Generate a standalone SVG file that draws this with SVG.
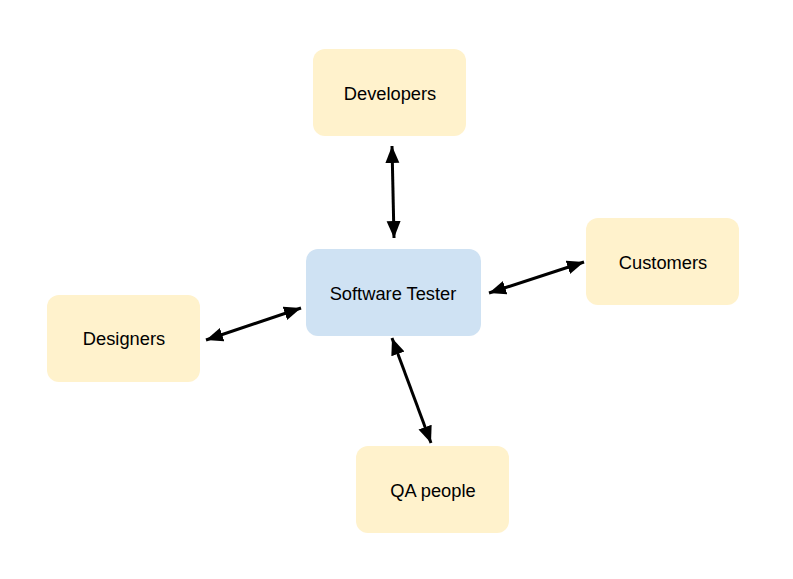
<svg xmlns="http://www.w3.org/2000/svg" width="793" height="579" viewBox="0 0 793 579">
<style>
.box{stroke:none}
.y{fill:#fff2cc}
.b{fill:#cfe2f3}
.t{font-family:"Liberation Sans",Arial,sans-serif;font-size:18.3px;fill:#000;text-anchor:middle}
.c{stroke:#000;stroke-width:3;fill:none;marker-start:url(#ah);marker-end:url(#ah)}
</style>
<defs>
<marker id="ah" markerUnits="userSpaceOnUse" markerWidth="18" markerHeight="16" viewBox="0 0 18 16" refX="17" refY="8" orient="auto-start-reverse">
<path d="M0,1 L17,8 L0,15 Z" fill="#000"/>
</marker>
</defs>
<rect width="793" height="579" fill="#fff"/>
<g id="connectors">
<line class="c" x1="392" y1="146" x2="394" y2="238"/>
<line class="c" x1="489" y1="293" x2="584" y2="262"/>
<line class="c" x1="206" y1="340" x2="301" y2="308"/>
<line class="c" x1="392" y1="338" x2="431" y2="443"/>
</g>
<g id="developers">
<rect class="box y" x="313" y="49" width="153" height="87" rx="12"/>
<text class="t" x="390" y="100">Developers</text>
</g>
<g id="software-tester">
<rect class="box b" x="306" y="249" width="175" height="87" rx="12"/>
<text class="t" x="393" y="300">Software Tester</text>
</g>
<g id="customers">
<rect class="box y" x="586" y="218" width="153" height="87" rx="12"/>
<text class="t" x="663" y="269">Customers</text>
</g>
<g id="designers">
<rect class="box y" x="47" y="295" width="153" height="87" rx="12"/>
<text class="t" x="124" y="345">Designers</text>
</g>
<g id="qa-people">
<rect class="box y" x="356" y="446" width="153" height="87" rx="12"/>
<text class="t" x="433" y="497">QA people</text>
</g>
</svg>
